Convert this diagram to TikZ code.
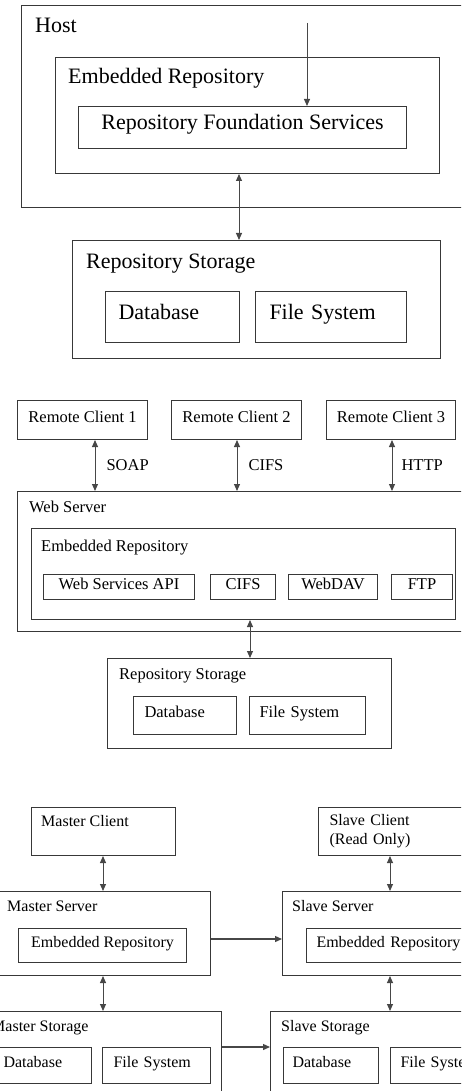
\documentclass[tikz,border=0pt]{standalone}
\usepackage{fontspec}
\setmainfont{Liberation Serif}
\usetikzlibrary{arrows.meta}

\begin{document}
\begin{tikzpicture}[x=1pt, y=-1pt, >={Triangle[length=7pt,width=6pt]},
  box/.style={draw=black!78, line width=1pt, inner sep=0pt, anchor=north west,
    text height=0.68em, text depth=0.2em},
  lbox/.style={box, align=left, inner xsep=#1},
  ttl/.style={inner sep=0pt, anchor=base west},
  big/.style={font=\fontsize{22}{26}\selectfont},
  mid/.style={font=\fontsize{16.5}{19}\selectfont},
  sml/.style={font=\fontsize{16}{19.3}\selectfont},
  link/.style={<->, draw=black!72, line width=1pt},
  lbl/.style={inner sep=0pt, mid}]
\useasboundingbox (0,0) rectangle (461,1091);
\clip (0,0) rectangle (461,1091);

% embedded host
\node[box, minimum width=460pt, minimum height=202pt] (host) at (21,5) {};
\node[ttl, big] (hostl) at (35,33) {Host};
\node[box, minimum width=384pt, minimum height=116pt] (emb) at (55,57) {};
\node[ttl, big] (embl) at (68,84) {Embedded Repository};
\node[box, big, minimum width=328pt, minimum height=42pt] (rfs) at (78,106) {Repository Foundation Services};
\coordinate (call) at (307,23);
\draw[link, ->] (call) -- (call |- rfs.north);

\node[box, minimum width=368pt, minimum height=118pt] (store) at (72,240) {};
\node[ttl, big] (storel) at (86,268) {Repository Storage};
\node[lbox=13pt, big, text width=108pt, minimum height=51pt] (db) at (105,291) {Database};
\node[lbox=14pt, big, text width=123pt, minimum height=51pt] (fs) at (255,291) {File System};
\draw[link] (emb.south -| 239,0) -- (store.north -| 239,0);

% web server
\node[box, mid, minimum width=130pt, minimum height=39pt] (rc1) at (17,400) {Remote Client 1};
\node[box, mid, minimum width=130pt, minimum height=39pt] (rc2) at (171,400) {Remote Client 2};
\node[box, mid, minimum width=129pt, minimum height=39pt] (rc3) at (326,400) {Remote Client 3};

\node[box, minimum width=460pt, minimum height=140pt] (ws) at (17,491) {};
\node[ttl, mid] (wsl) at (29,512) {Web Server};
\node[box, minimum width=424pt, minimum height=91pt] (emb2) at (31,528) {};
\node[ttl, mid] (emb2l) at (41,551) {Embedded Repository};
\node[box, mid, minimum width=151pt, minimum height=25pt] (wsapi) at (43,574) {Web Services API};
\node[box, mid, minimum width=65pt, minimum height=25pt] (cifs) at (210,574) {CIFS};
\node[box, mid, minimum width=89pt, minimum height=25pt] (dav) at (288,574) {WebDAV};
\node[box, mid, minimum width=61pt, minimum height=25pt] (ftp) at (391,574) {FTP};

\draw[link] (rc1.south -| 95,0) -- node[lbl, right=11pt] (soap) {SOAP} (ws.north -| 95,0);
\draw[link] (rc2.south -| 237,0) -- node[lbl, right=11pt] (cifsl) {CIFS} (ws.north -| 237,0);
\draw[link] (rc3.south -| 392,0) -- node[lbl, right=9pt] (http) {HTTP} (ws.north -| 392,0);

\node[box, minimum width=284pt, minimum height=90pt] (store2) at (107,658) {};
\node[ttl, mid] (store2l) at (119,679) {Repository Storage};
\node[lbox=11pt, mid, text width=81pt, minimum height=38pt] (db2) at (133,696) {Database};
\node[lbox=10pt, mid, text width=96pt, minimum height=38pt] (fs2) at (249,696) {File System};
\draw[link] (emb2.south -| 250,0) -- (store2.north -| 250,0);

% master / slave
\node[box, minimum width=144pt, minimum height=48pt] (mc) at (31,807) {};
\node[ttl, sml] (mcl) at (41,826.7) {Master Client};
\node[lbox=11pt, sml, text width=138pt, minimum height=48pt, text height=, text depth=] (sc) at (318,807) {Slave Client\\(Read Only)};

\node[box, minimum width=220pt, minimum height=84pt] (ms) at (-10,891) {};
\node[ttl, sml] (msl) at (7,911) {Master Server};
\node[box, sml, minimum width=168pt, minimum height=34pt] (emb3) at (18,928) {Embedded Repository};
\node[box, minimum width=200pt, minimum height=84pt] (ss) at (282,891) {};
\node[ttl, sml] (ssl) at (292,911) {Slave Server};
\node[lbox=10pt, sml, text width=160pt, minimum height=34pt] (emb4) at (306,928) {Embedded Repository};

\node[box, minimum width=231pt, minimum height=100pt] (mst) at (-10,1011) {};
\node[ttl, sml] (mstl) at (-9,1031.7) {Master Storage};
\node[lbox=11pt, sml, text width=77pt, minimum height=36pt] (mdb) at (-8,1047) {Database};
\node[lbox=11pt, sml, text width=86pt, minimum height=36pt] (mfs) at (102,1047) {File System};
\node[box, minimum width=220pt, minimum height=100pt] (sst) at (270,1011) {};
\node[ttl, sml] (sstl) at (281,1031.7) {Slave Storage};
\node[lbox=9pt, sml, text width=77pt, minimum height=36pt] (sdb) at (283,1047) {Database};
\node[lbox=10pt, sml, text width=80pt, minimum height=36pt] (sfs) at (390,1047) {File System};

\draw[link] (mc.south -| 103,0) -- (ms.north -| 103,0);
\draw[link] (ms.south -| 103,0) -- (mst.north -| 103,0);
\draw[link] (sc.south -| 390,0) -- (ss.north -| 390,0);
\draw[link] (ss.south -| 390,0) -- (sst.north -| 390,0);
\draw[link, ->, line width=1.3pt] (ms.east |- 0,939) -- (ss.west |- 0,939);
\draw[link, ->, line width=1.3pt] (mst.east |- 0,1047) -- (sst.west |- 0,1047);
\end{tikzpicture}
\end{document}
